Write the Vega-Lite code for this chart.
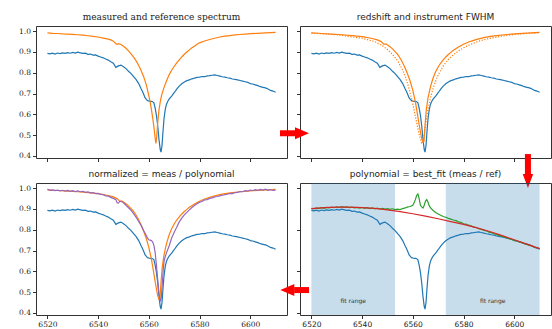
{
  "$schema": "https://vega.github.io/schema/vega-lite/v6.json",
  "padding": {"left": 18, "top": 12, "right": 2, "bottom": 2},
  "background": "white",
  "config": {
    "view": {"stroke": "#333", "strokeWidth": 1},
    "axis": {"domain": false, "grid": false, "tickSize": 3.5, "tickColor": "#333", "labelFontSize": 7.5, "labelColor": "#222", "labelPadding": 2, "title": null},
    "title": {"fontSize": 9, "font": "DejaVu Sans", "fontWeight": "normal", "color": "#222", "offset": 4, "frame": "group"},
    "line": {"strokeWidth": 1.2}
  },
  "datasets": {
    "meas": [
      {"wl":6520,"flux":0.893},{"wl":6521,"flux":0.891},{"wl":6522,"flux":0.894},{"wl":6523,"flux":0.890},{"wl":6524,"flux":0.895},{"wl":6525,"flux":0.892},{"wl":6526,"flux":0.896},{"wl":6527,"flux":0.893},{"wl":6528,"flux":0.897},{"wl":6529,"flux":0.894},{"wl":6530,"flux":0.898},{"wl":6531,"flux":0.895},{"wl":6532,"flux":0.899},{"wl":6533,"flux":0.896},{"wl":6534,"flux":0.893},{"wl":6535,"flux":0.894},{"wl":6536,"flux":0.889},{"wl":6537,"flux":0.890},{"wl":6538,"flux":0.885},{"wl":6539,"flux":0.886},{"wl":6540,"flux":0.880},{"wl":6541,"flux":0.876},{"wl":6542,"flux":0.872},{"wl":6543,"flux":0.866},{"wl":6544,"flux":0.861},{"wl":6545,"flux":0.853},{"wl":6546,"flux":0.846},{"wl":6547,"flux":0.826},{"wl":6548,"flux":0.833},{"wl":6549,"flux":0.837},{"wl":6550,"flux":0.829},{"wl":6551,"flux":0.820},{"wl":6552,"flux":0.807},{"wl":6553,"flux":0.796},{"wl":6554,"flux":0.781},{"wl":6555,"flux":0.767},{"wl":6556,"flux":0.748},{"wl":6557,"flux":0.722},{"wl":6557.5,"flux":0.710},{"wl":6558,"flux":0.695},{"wl":6558.5,"flux":0.680},{"wl":6559,"flux":0.672},{"wl":6559.5,"flux":0.666},{"wl":6560,"flux":0.664},{"wl":6560.5,"flux":0.662},{"wl":6561,"flux":0.663},{"wl":6561.5,"flux":0.661},{"wl":6562,"flux":0.655},{"wl":6562.5,"flux":0.630},{"wl":6563,"flux":0.595},{"wl":6563.5,"flux":0.545},{"wl":6564,"flux":0.480},{"wl":6564.5,"flux":0.430},{"wl":6564.8,"flux":0.418},{"wl":6565.2,"flux":0.450},{"wl":6565.6,"flux":0.520},{"wl":6566,"flux":0.580},{"wl":6566.5,"flux":0.625},{"wl":6567,"flux":0.650},{"wl":6567.5,"flux":0.663},{"wl":6568,"flux":0.673},{"wl":6569,"flux":0.688},{"wl":6570,"flux":0.704},{"wl":6571,"flux":0.721},{"wl":6572,"flux":0.736},{"wl":6573,"flux":0.747},{"wl":6574,"flux":0.756},{"wl":6575,"flux":0.762},{"wl":6576,"flux":0.766},{"wl":6577,"flux":0.771},{"wl":6578,"flux":0.774},{"wl":6579,"flux":0.778},{"wl":6580,"flux":0.779},{"wl":6581,"flux":0.782},{"wl":6582,"flux":0.781},{"wl":6583,"flux":0.785},{"wl":6584,"flux":0.786},{"wl":6585,"flux":0.788},{"wl":6586,"flux":0.790},{"wl":6587,"flux":0.787},{"wl":6588,"flux":0.784},{"wl":6589,"flux":0.781},{"wl":6590,"flux":0.779},{"wl":6591,"flux":0.776},{"wl":6592,"flux":0.774},{"wl":6593,"flux":0.770},{"wl":6594,"flux":0.768},{"wl":6595,"flux":0.766},{"wl":6596,"flux":0.763},{"wl":6597,"flux":0.760},{"wl":6598,"flux":0.757},{"wl":6599,"flux":0.754},{"wl":6600,"flux":0.748},{"wl":6601,"flux":0.746},{"wl":6602,"flux":0.742},{"wl":6603,"flux":0.738},{"wl":6604,"flux":0.733},{"wl":6605,"flux":0.730},{"wl":6606,"flux":0.727},{"wl":6607,"flux":0.722},{"wl":6608,"flux":0.715},{"wl":6609,"flux":0.712},{"wl":6610,"flux":0.706}
    ],
    "ref0": [
      {"wl":6520,"flux":0.992},{"wl":6522,"flux":0.990},{"wl":6524,"flux":0.989},{"wl":6526,"flux":0.987},{"wl":6528,"flux":0.986},{"wl":6530,"flux":0.985},{"wl":6532,"flux":0.983},{"wl":6534,"flux":0.981},{"wl":6536,"flux":0.978},{"wl":6538,"flux":0.975},{"wl":6540,"flux":0.972},{"wl":6542,"flux":0.967},{"wl":6544,"flux":0.962},{"wl":6545,"flux":0.958},{"wl":6546,"flux":0.952},{"wl":6547,"flux":0.940},{"wl":6547.5,"flux":0.937},{"wl":6548,"flux":0.940},{"wl":6549,"flux":0.936},{"wl":6550,"flux":0.928},{"wl":6551,"flux":0.918},{"wl":6552,"flux":0.905},{"wl":6553,"flux":0.891},{"wl":6554,"flux":0.875},{"wl":6555,"flux":0.857},{"wl":6556,"flux":0.835},{"wl":6557,"flux":0.810},{"wl":6558,"flux":0.780},{"wl":6559,"flux":0.742},{"wl":6560,"flux":0.690},{"wl":6560.5,"flux":0.660},{"wl":6561,"flux":0.625},{"wl":6561.5,"flux":0.585},{"wl":6562,"flux":0.540},{"wl":6562.5,"flux":0.485},{"wl":6562.8,"flux":0.460},{"wl":6563.1,"flux":0.490},{"wl":6563.5,"flux":0.560},{"wl":6564,"flux":0.620},{"wl":6564.5,"flux":0.660},{"wl":6565,"flux":0.690},{"wl":6566,"flux":0.730},{"wl":6567,"flux":0.762},{"wl":6568,"flux":0.790},{"wl":6569,"flux":0.812},{"wl":6570,"flux":0.830},{"wl":6571,"flux":0.848},{"wl":6572,"flux":0.862},{"wl":6573,"flux":0.876},{"wl":6574,"flux":0.889},{"wl":6575,"flux":0.900},{"wl":6576,"flux":0.910},{"wl":6577,"flux":0.920},{"wl":6578,"flux":0.928},{"wl":6579,"flux":0.937},{"wl":6580,"flux":0.944},{"wl":6582,"flux":0.953},{"wl":6584,"flux":0.960},{"wl":6586,"flux":0.966},{"wl":6588,"flux":0.972},{"wl":6590,"flux":0.976},{"wl":6592,"flux":0.979},{"wl":6594,"flux":0.982},{"wl":6596,"flux":0.984},{"wl":6598,"flux":0.986},{"wl":6600,"flux":0.988},{"wl":6603,"flux":0.990},{"wl":6606,"flux":0.992},{"wl":6610,"flux":0.994}
    ],
    "refs": [
      {"wl":6520,"flux":0.992},{"wl":6524,"flux":0.989},{"wl":6528,"flux":0.986},{"wl":6532,"flux":0.983},{"wl":6536,"flux":0.979},{"wl":6540,"flux":0.974},{"wl":6544,"flux":0.965},{"wl":6546,"flux":0.958},{"wl":6547.5,"flux":0.950},{"wl":6548.5,"flux":0.938},{"wl":6549.5,"flux":0.938},{"wl":6551,"flux":0.925},{"wl":6552,"flux":0.915},{"wl":6553,"flux":0.902},{"wl":6554,"flux":0.888},{"wl":6555,"flux":0.870},{"wl":6556,"flux":0.848},{"wl":6557,"flux":0.822},{"wl":6558,"flux":0.792},{"wl":6559,"flux":0.758},{"wl":6560,"flux":0.715},{"wl":6561,"flux":0.660},{"wl":6561.5,"flux":0.625},{"wl":6562,"flux":0.588},{"wl":6562.5,"flux":0.550},{"wl":6563,"flux":0.515},{"wl":6563.5,"flux":0.483},{"wl":6564,"flux":0.466},{"wl":6564.4,"flux":0.470},{"wl":6564.8,"flux":0.545},{"wl":6565.3,"flux":0.620},{"wl":6566,"flux":0.680},{"wl":6567,"flux":0.735},{"wl":6568,"flux":0.775},{"wl":6569,"flux":0.805},{"wl":6570,"flux":0.828},{"wl":6571,"flux":0.847},{"wl":6572,"flux":0.862},{"wl":6573,"flux":0.876},{"wl":6574,"flux":0.888},{"wl":6575,"flux":0.898},{"wl":6576,"flux":0.908},{"wl":6578,"flux":0.924},{"wl":6580,"flux":0.937},{"wl":6582,"flux":0.948},{"wl":6584,"flux":0.956},{"wl":6586,"flux":0.963},{"wl":6588,"flux":0.969},{"wl":6590,"flux":0.974},{"wl":6593,"flux":0.979},{"wl":6596,"flux":0.983},{"wl":6600,"flux":0.987},{"wl":6605,"flux":0.991},{"wl":6610,"flux":0.994}
    ],
    "refb": [
      {"wl":6520,"flux":0.991},{"wl":6530,"flux":0.983},{"wl":6540,"flux":0.966},{"wl":6545,"flux":0.950},{"wl":6548,"flux":0.930},{"wl":6550,"flux":0.912},{"wl":6552,"flux":0.888},{"wl":6554,"flux":0.858},{"wl":6556,"flux":0.812},{"wl":6557,"flux":0.782},{"wl":6558,"flux":0.745},{"wl":6559,"flux":0.700},{"wl":6560,"flux":0.650},{"wl":6561,"flux":0.592},{"wl":6562,"flux":0.532},{"wl":6562.5,"flux":0.503},{"wl":6563,"flux":0.478},{"wl":6563.5,"flux":0.463},{"wl":6564,"flux":0.468},{"wl":6564.5,"flux":0.498},{"wl":6565,"flux":0.543},{"wl":6565.5,"flux":0.588},{"wl":6566,"flux":0.625},{"wl":6567,"flux":0.680},{"wl":6568,"flux":0.725},{"wl":6569,"flux":0.760},{"wl":6570,"flux":0.790},{"wl":6572,"flux":0.833},{"wl":6574,"flux":0.864},{"wl":6576,"flux":0.887},{"wl":6578,"flux":0.905},{"wl":6580,"flux":0.920},{"wl":6583,"flux":0.938},{"wl":6586,"flux":0.952},{"wl":6590,"flux":0.965},{"wl":6595,"flux":0.976},{"wl":6600,"flux":0.984},{"wl":6605,"flux":0.989},{"wl":6610,"flux":0.992}
    ],
    "norm": [
      {"wl":6520,"flux":0.996},{"wl":6521,"flux":0.990},{"wl":6522,"flux":0.992},{"wl":6523,"flux":0.988},{"wl":6524,"flux":0.991},{"wl":6525,"flux":0.987},{"wl":6526,"flux":0.990},{"wl":6527,"flux":0.986},{"wl":6528,"flux":0.989},{"wl":6529,"flux":0.985},{"wl":6530,"flux":0.988},{"wl":6531,"flux":0.984},{"wl":6532,"flux":0.987},{"wl":6533,"flux":0.983},{"wl":6534,"flux":0.985},{"wl":6535,"flux":0.980},{"wl":6536,"flux":0.982},{"wl":6537,"flux":0.978},{"wl":6538,"flux":0.979},{"wl":6539,"flux":0.974},{"wl":6540,"flux":0.975},{"wl":6541,"flux":0.970},{"wl":6542,"flux":0.969},{"wl":6543,"flux":0.963},{"wl":6544,"flux":0.962},{"wl":6545,"flux":0.956},{"wl":6546,"flux":0.951},{"wl":6547,"flux":0.945},{"wl":6547.5,"flux":0.930},{"wl":6548,"flux":0.928},{"wl":6548.5,"flux":0.936},{"wl":6549,"flux":0.937},{"wl":6550,"flux":0.930},{"wl":6551,"flux":0.918},{"wl":6552,"flux":0.906},{"wl":6553,"flux":0.893},{"wl":6554,"flux":0.878},{"wl":6555,"flux":0.860},{"wl":6556,"flux":0.840},{"wl":6557,"flux":0.820},{"wl":6558,"flux":0.795},{"wl":6559,"flux":0.772},{"wl":6559.5,"flux":0.760},{"wl":6560,"flux":0.752},{"wl":6560.5,"flux":0.750},{"wl":6561,"flux":0.748},{"wl":6561.5,"flux":0.742},{"wl":6562,"flux":0.725},{"wl":6562.5,"flux":0.690},{"wl":6563,"flux":0.630},{"wl":6563.5,"flux":0.560},{"wl":6564,"flux":0.495},{"wl":6564.5,"flux":0.455},{"wl":6564.9,"flux":0.470},{"wl":6565.3,"flux":0.540},{"wl":6565.7,"flux":0.610},{"wl":6566,"flux":0.648},{"wl":6566.5,"flux":0.672},{"wl":6567,"flux":0.690},{"wl":6568,"flux":0.722},{"wl":6569,"flux":0.760},{"wl":6570,"flux":0.788},{"wl":6571,"flux":0.812},{"wl":6572,"flux":0.838},{"wl":6573,"flux":0.856},{"wl":6574,"flux":0.872},{"wl":6575,"flux":0.884},{"wl":6576,"flux":0.896},{"wl":6577,"flux":0.907},{"wl":6578,"flux":0.917},{"wl":6579,"flux":0.925},{"wl":6580,"flux":0.933},{"wl":6581,"flux":0.936},{"wl":6582,"flux":0.944},{"wl":6583,"flux":0.945},{"wl":6584,"flux":0.951},{"wl":6585,"flux":0.953},{"wl":6586,"flux":0.958},{"wl":6587,"flux":0.960},{"wl":6588,"flux":0.963},{"wl":6589,"flux":0.966},{"wl":6590,"flux":0.969},{"wl":6591,"flux":0.971},{"wl":6592,"flux":0.975},{"wl":6593,"flux":0.974},{"wl":6594,"flux":0.979},{"wl":6595,"flux":0.980},{"wl":6596,"flux":0.984},{"wl":6597,"flux":0.983},{"wl":6598,"flux":0.988},{"wl":6599,"flux":0.986},{"wl":6600,"flux":0.991},{"wl":6601,"flux":0.989},{"wl":6602,"flux":0.993},{"wl":6603,"flux":0.990},{"wl":6604,"flux":0.994},{"wl":6605,"flux":0.991},{"wl":6606,"flux":0.995},{"wl":6607,"flux":0.990},{"wl":6608,"flux":0.993},{"wl":6609,"flux":0.989},{"wl":6610,"flux":0.991}
    ],
    "ratio": [
      {"wl":6520,"flux":0.903},{"wl":6521,"flux":0.900},{"wl":6522,"flux":0.905},{"wl":6523,"flux":0.902},{"wl":6524,"flux":0.906},{"wl":6525,"flux":0.903},{"wl":6526,"flux":0.908},{"wl":6527,"flux":0.905},{"wl":6528,"flux":0.909},{"wl":6529,"flux":0.906},{"wl":6530,"flux":0.910},{"wl":6531,"flux":0.907},{"wl":6532,"flux":0.911},{"wl":6533,"flux":0.908},{"wl":6534,"flux":0.910},{"wl":6535,"flux":0.906},{"wl":6536,"flux":0.909},{"wl":6537,"flux":0.905},{"wl":6538,"flux":0.908},{"wl":6539,"flux":0.904},{"wl":6540,"flux":0.907},{"wl":6541,"flux":0.903},{"wl":6542,"flux":0.906},{"wl":6543,"flux":0.902},{"wl":6544,"flux":0.905},{"wl":6545,"flux":0.901},{"wl":6546,"flux":0.904},{"wl":6547,"flux":0.900},{"wl":6548,"flux":0.903},{"wl":6549,"flux":0.899},{"wl":6550,"flux":0.902},{"wl":6551,"flux":0.898},{"wl":6552,"flux":0.901},{"wl":6553,"flux":0.897},{"wl":6554,"flux":0.899},{"wl":6555,"flux":0.897},{"wl":6556,"flux":0.902},{"wl":6557,"flux":0.905},{"wl":6558,"flux":0.910},{"wl":6559,"flux":0.912},{"wl":6560,"flux":0.918},{"wl":6560.5,"flux":0.930},{"wl":6561,"flux":0.945},{"wl":6561.5,"flux":0.965},{"wl":6562,"flux":0.972},{"wl":6562.5,"flux":0.950},{"wl":6563,"flux":0.918},{"wl":6563.5,"flux":0.910},{"wl":6564,"flux":0.905},{"wl":6564.5,"flux":0.918},{"wl":6565,"flux":0.938},{"wl":6565.5,"flux":0.945},{"wl":6566,"flux":0.932},{"wl":6566.5,"flux":0.915},{"wl":6567,"flux":0.905},{"wl":6568,"flux":0.893},{"wl":6569,"flux":0.883},{"wl":6570,"flux":0.876},{"wl":6571,"flux":0.870},{"wl":6572,"flux":0.864},{"wl":6573,"flux":0.860},{"wl":6574,"flux":0.855},{"wl":6575,"flux":0.851},{"wl":6576,"flux":0.847},{"wl":6577,"flux":0.844},{"wl":6578,"flux":0.838},{"wl":6579,"flux":0.836},{"wl":6580,"flux":0.829},{"wl":6581,"flux":0.827},{"wl":6582,"flux":0.822},{"wl":6583,"flux":0.819},{"wl":6584,"flux":0.813},{"wl":6585,"flux":0.811},{"wl":6586,"flux":0.805},{"wl":6587,"flux":0.802},{"wl":6588,"flux":0.797},{"wl":6589,"flux":0.795},{"wl":6590,"flux":0.789},{"wl":6591,"flux":0.786},{"wl":6592,"flux":0.781},{"wl":6593,"flux":0.778},{"wl":6594,"flux":0.772},{"wl":6595,"flux":0.770},{"wl":6596,"flux":0.765},{"wl":6597,"flux":0.762},{"wl":6598,"flux":0.757},{"wl":6599,"flux":0.754},{"wl":6600,"flux":0.749},{"wl":6601,"flux":0.746},{"wl":6602,"flux":0.741},{"wl":6603,"flux":0.738},{"wl":6604,"flux":0.733},{"wl":6605,"flux":0.730},{"wl":6606,"flux":0.725},{"wl":6607,"flux":0.722},{"wl":6608,"flux":0.716},{"wl":6609,"flux":0.714},{"wl":6610,"flux":0.709}
    ],
    "poly": [
      {"wl":6520,"flux":0.902},{"wl":6525,"flux":0.907},{"wl":6530,"flux":0.909},{"wl":6535,"flux":0.909},{"wl":6540,"flux":0.907},{"wl":6545,"flux":0.903},{"wl":6550,"flux":0.896},{"wl":6555,"flux":0.887},{"wl":6560,"flux":0.877},{"wl":6565,"flux":0.866},{"wl":6570,"flux":0.853},{"wl":6575,"flux":0.839},{"wl":6580,"flux":0.826},{"wl":6585,"flux":0.810},{"wl":6590,"flux":0.793},{"wl":6595,"flux":0.773},{"wl":6600,"flux":0.752},{"wl":6605,"flux":0.731},{"wl":6610,"flux":0.709}
    ],
    "ranges": [{"wl":6520,"wl2":6553},{"wl":6573,"wl2":6610}],
    "rangeLabels": [{"wl":6536.5,"flux":0.455,"label":"fit range"},{"wl":6591.5,"flux":0.455,"label":"fit range"}],
    "arrowRightShaft": [{"wl":6507.6,"wl2":6513.8,"flux":0.509}],
    "arrowRightHead": [{"wl":6516.3,"flux":0.509}],
    "arrowDownShaft": [{"wl":6605.4,"flux":0.409,"flux2":0.310}],
    "arrowDownHead": [{"wl":6605.4,"flux":0.279}],
    "arrowLeftShaft": [{"wl":6513.2,"wl2":6519.05,"flux":0.510}],
    "arrowLeftHead": [{"wl":6510.5,"flux":0.510}]
  },
  "columns": 2,
  "spacing": {"row": 25, "column": 13},
  "bounds": "flush",
  "concat": [
    {
      "title": {"text": "measured and reference spectrum", "font": "DejaVu Serif"},
      "width": 251, "height": 132,
      "encoding": {
        "x": {"field": "wl", "type": "quantitative", "scale": {"domain": [6515.5, 6614.5], "nice": false, "zero": false}, "axis": {"values": [6520, 6540, 6560, 6580, 6600], "labels": false}},
        "y": {"field": "flux", "type": "quantitative", "scale": {"domain": [0.39, 1.025], "nice": false, "zero": false}, "axis": {"values": [0.4, 0.5, 0.6, 0.7, 0.8, 0.9, 1.0], "format": ".1f", "labelFont": "DejaVu Serif"}}
      },
      "layer": [
        {"data": {"name": "meas"}, "mark": {"type": "line", "color": "#1f77b4"}},
        {"data": {"name": "ref0"}, "mark": {"type": "line", "color": "#ff7f0e"}}
      ]
    },
    {
      "title": "redshift and instrument FWHM",
      "width": 251, "height": 132,
      "encoding": {
        "x": {"field": "wl", "type": "quantitative", "scale": {"domain": [6515.5, 6614.5], "nice": false, "zero": false}, "axis": {"values": [6520, 6540, 6560, 6580, 6600], "labels": false}},
        "y": {"field": "flux", "type": "quantitative", "scale": {"domain": [0.39, 1.025], "nice": false, "zero": false}, "axis": {"values": [0.4, 0.5, 0.6, 0.7, 0.8, 0.9, 1.0], "labels": false}}
      },
      "layer": [
        {"data": {"name": "meas"}, "mark": {"type": "line", "color": "#1f77b4"}},
        {"data": {"name": "refb"}, "mark": {"type": "line", "color": "#ff7f0e", "strokeDash": [1.2, 1.6]}},
        {"data": {"name": "refs"}, "mark": {"type": "line", "color": "#ff7f0e"}},
        {"data": {"name": "arrowRightShaft"}, "mark": {"type": "rule", "color": "#ff0000", "strokeWidth": 6, "strokeCap": "butt"}, "encoding": {"x2": {"field": "wl2"}}},
        {"data": {"name": "arrowRightHead"}, "mark": {"type": "point", "shape": "M-1,-0.85L1,0L-1,0.85Z", "filled": true, "color": "#ff0000", "opacity": 1, "size": 196, "strokeWidth": 0}},
        {"data": {"name": "arrowDownShaft"}, "mark": {"type": "rule", "color": "#ff0000", "strokeWidth": 6, "strokeCap": "butt"}, "encoding": {"y2": {"field": "flux2"}}},
        {"data": {"name": "arrowDownHead"}, "mark": {"type": "point", "shape": "M-0.75,-1L0.75,-1L0,1Z", "filled": true, "color": "#ff0000", "opacity": 1, "size": 196, "strokeWidth": 0}}
      ]
    },
    {
      "title": "normalized = meas / polynomial",
      "width": 251, "height": 132,
      "encoding": {
        "x": {"field": "wl", "type": "quantitative", "scale": {"domain": [6515.5, 6614.5], "nice": false, "zero": false}, "axis": {"values": [6520, 6540, 6560, 6580, 6600], "format": "d", "labelFont": "DejaVu Serif"}},
        "y": {"field": "flux", "type": "quantitative", "scale": {"domain": [0.39, 1.025], "nice": false, "zero": false}, "axis": {"values": [0.4, 0.5, 0.6, 0.7, 0.8, 0.9, 1.0], "format": ".1f", "labelFont": "DejaVu Serif"}}
      },
      "layer": [
        {"data": {"name": "meas"}, "mark": {"type": "line", "color": "#1f77b4"}},
        {"data": {"name": "refs"}, "mark": {"type": "line", "color": "#ff7f0e"}},
        {"data": {"name": "norm"}, "mark": {"type": "line", "color": "#9467bd"}}
      ]
    },
    {
      "title": "polynomial = best_fit (meas / ref)",
      "width": 251, "height": 132,
      "encoding": {
        "x": {"field": "wl", "type": "quantitative", "scale": {"domain": [6515.5, 6614.5], "nice": false, "zero": false}, "axis": {"values": [6520, 6540, 6560, 6580, 6600], "format": "d", "labelFont": "DejaVu Sans"}}
      },
      "layer": [
        {"data": {"name": "ranges"}, "mark": {"type": "rect", "color": "#1f77b4", "opacity": 0.25}, "encoding": {"x2": {"field": "wl2"}}},
        {"data": {"name": "meas"}, "mark": {"type": "line", "color": "#1f77b4"}, "encoding": {"y": {"field": "flux", "type": "quantitative", "scale": {"domain": [0.39, 1.025], "nice": false, "zero": false}, "axis": {"values": [0.4, 0.5, 0.6, 0.7, 0.8, 0.9, 1.0], "labels": false}}}},
        {"data": {"name": "ratio"}, "mark": {"type": "line", "color": "#2ca02c"}, "encoding": {"y": {"field": "flux", "type": "quantitative"}}},
        {"data": {"name": "poly"}, "mark": {"type": "line", "color": "#d62728"}, "encoding": {"y": {"field": "flux", "type": "quantitative"}}},
        {"data": {"name": "rangeLabels"}, "mark": {"type": "text", "font": "DejaVu Sans", "fontSize": 6, "color": "#333"}, "encoding": {"y": {"field": "flux", "type": "quantitative"}, "text": {"field": "label"}}},
        {"data": {"name": "arrowLeftShaft"}, "mark": {"type": "rule", "color": "#ff0000", "strokeWidth": 6, "strokeCap": "butt"}, "encoding": {"y": {"field": "flux", "type": "quantitative"}, "x2": {"field": "wl2"}}},
        {"data": {"name": "arrowLeftHead"}, "mark": {"type": "point", "shape": "M1,-0.85L-1,0L1,0.85Z", "filled": true, "color": "#ff0000", "opacity": 1, "size": 196, "strokeWidth": 0}, "encoding": {"y": {"field": "flux", "type": "quantitative"}}}
      ]
    }
  ]
}
